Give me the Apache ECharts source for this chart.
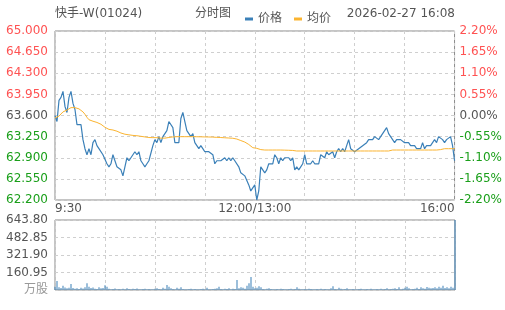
<!DOCTYPE html>
<html>
<head>
<meta charset="utf-8">
<script src="https://cdn.jsdelivr.net/npm/echarts@6/dist/echarts.min.js"></script>
<style>
html,body{margin:0;padding:0;background:#fff;}
#c{width:505px;height:310px;}
</style>
</head>
<body>
<div id="c"></div>
<script>
const stockName = '快手-W(01024)';
const chartName = '分时图';
const seriesNames = ['价格', '均价'];
const stamp = '2026-02-27 16:08';
const prevClose = 63.6;
const timeLabels = ['9:30', '12:00/13:00', '16:00'];
const volUnit = '万股';

const price = [
63.60,63.50,63.85,63.90,64.00,63.75,63.65,63.90,64.00,63.80,
63.70,63.45,63.45,63.45,63.20,63.05,62.95,63.05,62.95,63.15,
63.20,63.10,63.05,63.05,62.95,62.95,62.80,62.75,62.80,62.95,
62.85,62.75,62.75,62.70,62.60,62.75,62.90,62.85,62.90,62.90,
63.00,62.95,63.00,62.85,62.80,62.75,62.80,62.85,62.85,63.10,
63.20,63.15,63.25,63.15,63.25,63.25,63.35,63.50,63.50,63.40,
63.15,63.15,63.15,63.55,63.65,63.50,63.35,63.30,63.25,63.30,
63.15,63.10,63.05,63.10,63.05,63.00,63.00,63.00,63.00,62.95,
62.80,62.85,62.85,62.85,62.85,62.90,62.85,62.90,62.85,62.90,
62.85,62.85,62.75,62.65,62.65,62.60,62.60,62.45,62.35,62.35,
62.45,62.20,62.35,62.75,62.70,62.65,62.70,62.80,62.80,62.80,
62.95,62.90,62.80,62.90,62.85,62.90,62.90,62.90,62.85,62.90,
62.70,62.75,62.70,62.75,62.80,62.95,62.80,62.80,62.80,62.85,
62.80,62.80,62.80,62.95,62.95,62.90,63.00,62.95,62.95,63.00,
62.90,63.00,63.05,63.00,63.05,63.00,63.10,63.20,63.05,63.05,
63.00,63.00,63.05,63.05,63.10,63.10,63.15,63.20,63.20,63.20,
63.25,63.25,63.20,63.25,63.30,63.30,63.40,63.30,63.25,63.20,
63.15,63.20,63.20,63.20,63.20,63.15,63.15,63.15,63.10,63.10,
63.10,63.05,63.05,63.05,63.15,63.05,63.10,63.10,63.10,63.10,
63.20,63.15,63.25,63.25,63.20,63.15,63.20,63.20,63.25,63.10,
62.85
];

const avgPrice = [
63.560,63.560,63.590,63.620,63.660,63.690,63.690,63.710,63.730,63.735,
63.730,63.720,63.710,63.690,63.660,63.620,63.570,63.530,63.515,63.505,
63.495,63.485,63.470,63.455,63.440,63.405,63.385,63.370,63.365,63.360,
63.350,63.340,63.330,63.310,63.295,63.290,63.285,63.280,63.275,63.270,
63.267,63.265,63.260,63.255,63.250,63.245,63.240,63.235,63.233,63.233,
63.233,63.233,63.230,63.225,63.222,63.225,63.230,63.236,63.240,63.245,
63.247,63.249,63.249,63.249,63.249,63.249,63.249,63.249,63.249,63.249,
63.249,63.248,63.248,63.247,63.246,63.245,63.245,63.244,63.243,63.242,
63.240,63.238,63.236,63.235,63.233,63.231,63.229,63.227,63.225,63.223,
63.220,63.210,63.197,63.185,63.175,63.160,63.150,63.120,63.090,63.067,
63.060,63.056,63.045,63.035,63.028,63.028,63.028,63.028,63.028,63.028,
63.028,63.028,63.028,63.028,63.028,63.026,63.025,63.024,63.022,63.021,
63.020,63.012,63.012,63.012,63.012,63.012,63.012,63.012,63.012,63.012,
63.012,63.012,63.012,63.012,63.012,63.012,63.012,63.012,63.012,63.012,
63.012,63.012,63.012,63.012,63.012,63.012,63.012,63.012,63.012,63.012,
63.012,63.012,63.012,63.012,63.012,63.012,63.012,63.012,63.012,63.012,
63.012,63.012,63.012,63.012,63.012,63.012,63.012,63.012,63.028,63.028,
63.028,63.028,63.028,63.028,63.028,63.028,63.028,63.028,63.028,63.028,
63.028,63.028,63.028,63.028,63.028,63.028,63.028,63.028,63.028,63.028,
63.028,63.028,63.028,63.035,63.050,63.050,63.050,63.050,63.050,63.050,
63.050
];

const volume = [
30,83,25,18,40,22,15,20,55,18,
12,15,10,20,14,25,61,30,18,22,
12,10,25,15,18,43,30,12,8,10,
14,8,10,6,12,8,15,10,8,12,
10,14,8,6,10,12,8,10,6,8,
12,15,10,8,20,12,45,30,15,10,
8,20,12,25,10,8,6,10,12,8,
10,6,8,10,12,8,20,6,8,10,
12,15,30,10,8,12,10,15,8,12,
10,92,15,25,20,12,40,61,120,30,
15,20,35,25,10,8,12,15,10,8,
6,10,8,12,10,6,8,10,12,8,
10,25,12,8,6,10,8,12,10,6,
8,10,6,12,8,10,6,8,15,35,
10,8,20,12,8,10,15,8,6,10,
8,6,10,12,8,6,10,8,12,6,
8,10,6,12,8,10,15,8,10,12,
15,10,25,8,12,20,30,15,8,10,
12,20,10,25,15,12,28,20,15,18,
25,15,30,20,40,18,25,15,30,20,
643.8
];

const categories = price.map((_, i) => i);
const lastIdx = categories.length - 1;
const midIdx = lastIdx / 2;
const volMax = Math.max.apply(null, volume);

const FONT = 'DejaVu Sans, Noto Sans CJK SC, sans-serif';
const BLUE = '#3b80b8';
const ORANGE = '#fbb430';
const RED = '#ff5252';
const GREEN = '#1a9f1a';
const GRAY = '#555';
const GRIDC = '#cfcfcf';

function priceColor(v) {
  const d = v - prevClose;
  if (Math.abs(d) < 1e-6) return GRAY;
  return d > 0 ? RED : GREEN;
}

const chart = echarts.init(document.getElementById('c'), null, {renderer: 'canvas'});
const option = {
  animation: false,
  backgroundColor: '#fff',
  textStyle: {fontFamily: FONT},
  graphic: [
    {type: 'text', left: 55, top: 8, style: {text: stockName, fontSize: 12, fill: GRAY, fontFamily: FONT}},
    {type: 'text', right: 274, top: 8, style: {text: chartName, fontSize: 12, fill: GRAY, fontFamily: FONT}},
    {type: 'text', right: 50, top: 8, style: {text: stamp, fontSize: 12, fill: GRAY, fontFamily: FONT}}
  ],
  legend: {
    left: 240, top: 8, itemWidth: 8, itemHeight: 3, itemGap: 12,
    icon: 'rect',
    textStyle: {fontSize: 12, color: GRAY, fontFamily: FONT},
    data: seriesNames
  },
  grid: [
    {left: 55, right: 50, top: 31, height: 169, show: true, borderColor: '#8a8a8a', borderWidth: 1, containLabel: false},
    {left: 55, right: 50, top: 220, height: 70, show: true, borderColor: '#8a8a8a', borderWidth: 1, containLabel: false}
  ],
  xAxis: [
    {
      type: 'category', gridIndex: 0, data: categories, boundaryGap: false,
      axisLine: {show: false}, axisTick: {show: false},
      axisLabel: {
        color: GRAY, fontSize: 12, margin: 3, fontFamily: FONT,
        interval: (idx) => idx === 0 || idx === midIdx || idx === lastIdx,
        formatter: (v, idx) => idx === 0 ? timeLabels[0] : (idx === lastIdx ? timeLabels[2] : timeLabels[1]),
        alignMinLabel: 'left', alignMaxLabel: 'right', showMinLabel: true, showMaxLabel: true
      },
      splitLine: {show: true, interval: (idx) => idx % 25 === 0, lineStyle: {color: GRIDC, type: [3, 3]}}
    },
    {
      type: 'category', gridIndex: 1, data: categories, boundaryGap: false,
      axisLine: {show: false}, axisTick: {show: false}, axisLabel: {show: false},
      splitLine: {show: true, interval: (idx) => idx % 25 === 0, lineStyle: {color: GRIDC, type: [3, 3]}}
    }
  ],
  yAxis: [
    {
      type: 'value', gridIndex: 0, min: 62.2, max: 65.0, interval: 0.35, scale: true,
      axisLine: {show: false}, axisTick: {show: false},
      axisLabel: {fontSize: 12, margin: 7, fontFamily: FONT, formatter: (v) => v.toFixed(3), color: (v) => priceColor(Number(v))},
      splitLine: {show: true, lineStyle: {color: GRIDC, type: [3, 3]}}
    },
    {
      type: 'value', gridIndex: 0, position: 'right', min: 62.2, max: 65.0, interval: 0.35, scale: true,
      axisLine: {show: false}, axisTick: {show: false},
      axisLabel: {fontSize: 12, margin: 5, fontFamily: FONT,
        formatter: (v) => ((v - prevClose) / prevClose * 100).toFixed(2) + '%',
        color: (v) => priceColor(Number(v))},
      splitLine: {show: false}
    },
    {
      type: 'value', gridIndex: 1, min: 0, max: volMax, interval: volMax / 4,
      axisLine: {show: false}, axisTick: {show: false},
      axisLabel: {fontSize: 12, margin: 7, fontFamily: FONT,
        formatter: (v) => v === 0 ? volUnit : v.toFixed(2),
        color: (v) => Number(v) === 0 ? '#999' : GRAY},
      splitLine: {show: true, lineStyle: {color: GRIDC, type: [3, 3]}}
    }
  ],
  series: [
    {name: seriesNames[0], type: 'line', xAxisIndex: 0, yAxisIndex: 0, data: price, showSymbol: false, symbol: 'none',
     lineStyle: {color: BLUE, width: 1.2}, itemStyle: {color: BLUE}},
    {name: seriesNames[1], type: 'line', xAxisIndex: 0, yAxisIndex: 0, data: avgPrice, showSymbol: false, symbol: 'none',
     lineStyle: {color: ORANGE, width: 1}, itemStyle: {color: ORANGE}},
    {name: 'vol', type: 'bar', xAxisIndex: 1, yAxisIndex: 2, data: volume, barWidth: 1,
     itemStyle: {color: BLUE}}
  ]
};
chart.setOption(option);
</script>
</body>
</html>
